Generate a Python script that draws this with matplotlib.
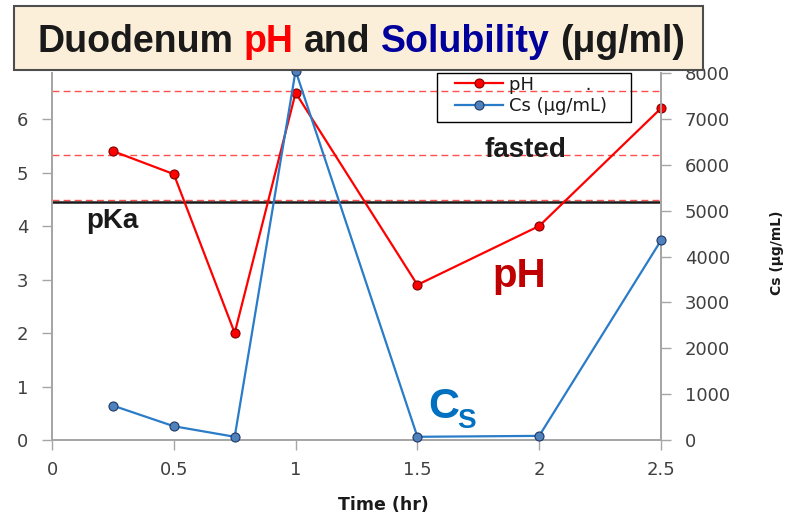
import numpy as np
import matplotlib
matplotlib.use("Agg")
import matplotlib.pyplot as plt
from matplotlib.patches import Rectangle

# duodenum samples
time_hr = [0.25, 0.5, 0.75, 1.0, 1.5, 2.0, 2.5]
ph_vals = [5.40, 4.97, 2.00, 6.49, 2.90, 4.00, 6.20]
cs_vals = [750, 300, 70, 8050, 70, 90, 4350]

pka = 4.45
fasted_lines = [6.53, 5.33, 4.48]

x_ticks = [0, 0.5, 1, 1.5, 2, 2.5]
x_labels = ["0", "0.5", "1", "1.5", "2", "2.5"]
ph_ticks = [0, 1, 2, 3, 4, 5, 6]
cs_ticks = [0, 1000, 2000, 3000, 4000, 5000, 6000, 7000, 8000]

W, H = 797, 517
fig = plt.figure(figsize=(W / 100, H / 100), dpi=100)
ax = fig.add_axes([52 / W, 77 / H, 609 / W, 367 / H])
ax2 = ax.twinx()

grey = "#A6A6A6"
tick_col = "#404040"

ph_line, = ax.plot(time_hr, ph_vals, color="#FF0000", lw=1.6, marker="o",
                   ms=6.5, mfc="#FF0000", mec="#7F0000", mew=0.8,
                   clip_on=False, zorder=4)
cs_line, = ax2.plot(time_hr, cs_vals, color="#2A7BC8", lw=1.6, marker="o",
                    ms=6.5, mfc="#4F81BD", mec="#1F3864", mew=0.8,
                    clip_on=False, zorder=4)

for yv in fasted_lines:
    ax.axhline(yv, color="#FF5050", lw=1.0, ls=(0, (5, 3)), zorder=2)
ax.axhline(pka, color="#1a1a1a", lw=1.8, zorder=2)

ax.set_xlim(0, 2.5)
ax.set_ylim(0, 6.86)
ax2.set_ylim(0, 8000)
ax.set_xticks(x_ticks)
ax.set_xticklabels(x_labels)
ax.set_yticks(ph_ticks)
ax2.set_yticks(cs_ticks)

for a in (ax, ax2):
    a.set_facecolor("none")
    a.spines["top"].set_visible(False)
    for s in ("left", "right", "bottom"):
        a.spines[s].set_color(grey)
        a.spines[s].set_linewidth(1.3)
    a.tick_params(direction="out", length=7, width=1, color=grey,
                  labelcolor=tick_col, labelsize=13, pad=8)
ax.tick_params(axis="y", pad=10)
ax2.tick_params(axis="y", pad=10)

fig.text(383 / W, 1 - 505 / H, "Time (hr)", ha="center", va="center",
         fontsize=12.5, weight="bold", color="#1a1a1a")
fig.text(777 / W, 1 - 253 / H, "Cs (μg/mL)", ha="center", va="center",
         rotation=90, fontsize=10, weight="bold", color="#1a1a1a")

# annotations inside the plot
bold_sans = dict(family="Liberation Sans", weight="bold")
ax.text(0.14, 3.96, "pKa", fontsize=20, color="#1a1a1a", va="baseline", **bold_sans)
ax.text(1.777, 5.29, "fasted", fontsize=20, color="#1a1a1a", va="baseline", **bold_sans)
ax.text(1.806, 2.86, "pH", fontsize=29, color="#C00000", va="baseline", **bold_sans)
ax.text(1.543, 0.41, "C", fontsize=31, color="#0070C0", va="baseline", **bold_sans)
ax.text(1.663, 0.22, "S", fontsize=20, color="#0070C0", va="baseline", **bold_sans)

# legend with a hand-drawn frame (wider side padding than top/bottom)
leg = ax2.legend([ph_line, cs_line], ["pH         .", "Cs (μg/mL)"],
                 loc="upper left", bbox_to_anchor=(452 / W, 1 - 73 / H),
                 bbox_transform=fig.transFigure, borderaxespad=0,
                 frameon=False, fontsize=13, handlelength=2.7,
                 handletextpad=0.3, borderpad=0.15, labelspacing=0.2)
for t in leg.get_texts():
    t.set_color("#1a1a1a")
leg_box = Rectangle((437 / W, 1 - 122 / H), (631 - 437) / W, (122 - 73) / H,
                    transform=fig.transFigure, facecolor="none",
                    edgecolor="black", lw=1.0, zorder=6)
fig.add_artist(leg_box)

# title banner
banner = Rectangle((14 / W, 1 - 70 / H), (703 - 14) / W, (70 - 6) / H,
                   transform=fig.transFigure, facecolor="#FBEFDA",
                   edgecolor="#4d4d4d", lw=1.5, zorder=5)
fig.add_artist(banner)

pieces = [("Duodenum", "#1a1a1a"), ("pH", "#FF0000"), ("and", "#1a1a1a"),
          ("Solubility", "#00009C"), ("(μg/ml)", "#1a1a1a")]
gap_px = 0.278 * 27 * 100 / 72
renderer = fig.canvas.get_renderer()
x_px = 37
for s, c in pieces:
    t = fig.text(x_px / W, 1 - 52 / H, s, fontsize=27, color=c,
                 va="baseline", ha="left", zorder=6, **bold_sans)
    x_px += t.get_window_extent(renderer).width + gap_px

fig.savefig("out.png", dpi=100)
